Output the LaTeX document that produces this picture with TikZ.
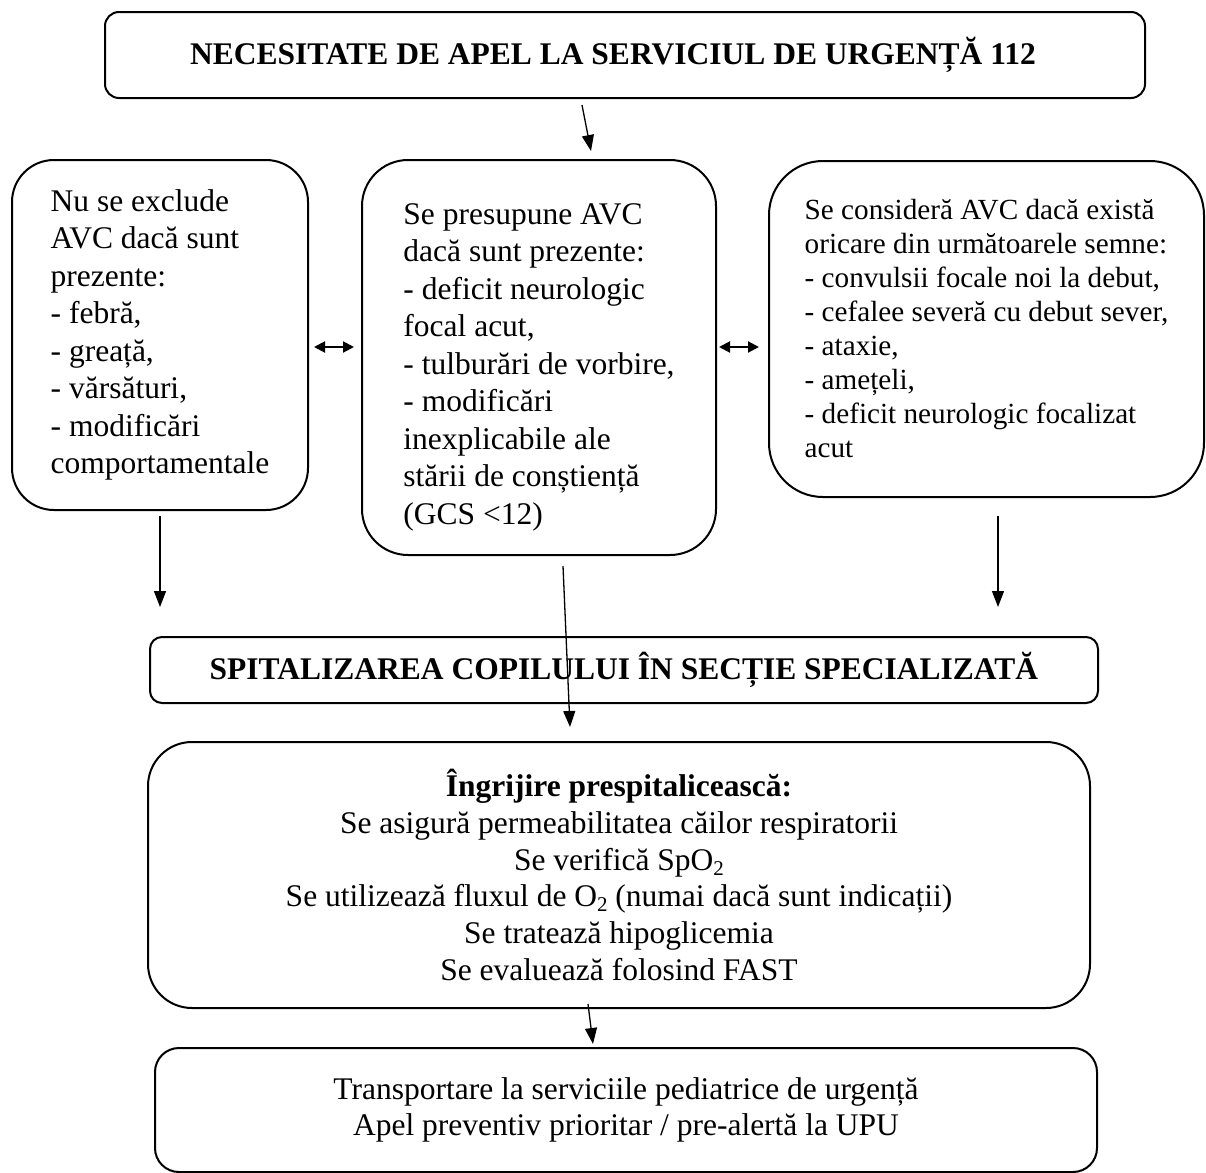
\documentclass[tikz,border=0pt]{standalone}
\usepackage{fontspec}
\setmainfont{Liberation Serif}
\usepackage{tikz}
\usetikzlibrary{arrows.meta,positioning,calc}

\newcommand{\bodysize}{\fontsize{15.75}{18.75}\selectfont}
\newcommand{\signsize}{\fontsize{14.6}{17}\selectfont}
\newcommand{\caresize}{\fontsize{15.75}{18.35}\selectfont}
\newcommand{\lowidx}[1]{\raisebox{-0.35ex}{\fontsize{10.5}{12}\selectfont #1}}

\begin{document}
\begin{tikzpicture}[x=0.5pt,y=-0.5pt,
    flowbox/.style={draw, line width=1pt, inner sep=0pt, font=\bodysize},
    arr/.style={-{Triangle[length=8pt,width=6pt]}, line width=0.65pt},
    dblarr/.style={{Triangle[length=5.5pt,width=5.5pt]}-{Triangle[length=5.5pt,width=5.5pt]}, line width=1pt}]
  \useasboundingbox (0,0) rectangle (1206,1173);
  % Emergency call on top
  \node[flowbox, rounded corners=7pt, minimum width=520pt, minimum height=43pt,
    font=\bodysize\bfseries] (call) at (625,55)
    {NECESITATE DE APEL LA SERVICIUL DE URGENȚĂ 112\hspace*{12pt}};
  % Three criteria boxes
  \node[flowbox, rounded corners=21pt, minimum width=148pt, minimum height=175pt,
    align=left] (excl) at (160,335)
    {Nu se exclude\\AVC dacă sunt\\prezente:\\- febră,\\- greață,\\- vărsături,\\- modificări\\comportamentale};
  \node[flowbox, rounded corners=23pt, minimum width=177pt, minimum height=197.5pt,
    align=left] (mid) at (539,357.5)
    {\rule{0pt}{20pt}Se presupune AVC\\dacă sunt prezente:\\- deficit neurologic\\focal acut,\\- tulburări de vorbire,\\- modificări\\inexplicabile ale\\stării de conștiență\\(GCS <12)};
  \node[flowbox, rounded corners=27pt, minimum width=217.5pt, minimum height=168pt,
    align=left, font=\signsize] (cons) at (986.5,329)
    {Se consideră AVC dacă există\\oricare din următoarele semne:\\- convulsii focale noi la debut,\\- cefalee severă cu debut sever,\\- ataxie,\\- amețeli,\\- deficit neurologic focalizat\\acut};
  % Hospital admission
  \node[flowbox, rounded corners=6pt, minimum width=474pt, minimum height=33pt,
    font=\bodysize\bfseries] (hosp) at (624,670)
    {SPITALIZAREA COPILULUI ÎN SECȚIE SPECIALIZATĂ};
  % Prehospital care
  \node[flowbox, rounded corners=22pt, minimum width=471pt, minimum height=133pt,
    align=center, font=\caresize] (care) at (619,875)
    {\textbf{Îngrijire prespitalicească:}\\Se asigură permeabilitatea căilor respiratorii\\Se verifică SpO\lowidx{2}\\Se utilizează fluxul de O\lowidx{2} (numai dacă sunt indicații)\\Se tratează hipoglicemia\\Se evaluează folosind FAST};
  % Transport
  \node[flowbox, rounded corners=12pt, minimum width=471pt, minimum height=62pt,
    align=center, font=\caresize] (transp) at (626,1110)
    {Transportare la serviciile pediatrice de urgență\\Apel preventiv prioritar / pre-alertă la UPU};

  % Connectors
  \draw[arr] ($(call.south)+(-43,6)$) -- ($(mid.north)+(52,-8)$);
  \draw[dblarr] ($(excl.east)+(5,12)$) -- ($(mid.west)+(-7,-10.5)$);
  \draw[dblarr] ($(mid.east)+(2,-10.5)$) -- ($(cons.west)+(-9,18)$);
  \draw[arr] ($(excl.south)+(0,5)$) -- ($(excl.south |- hosp.north)+(0,-29)$);
  \draw[arr] ($(cons.south)+(11.5,18)$) -- ($(cons.south |- hosp.north)+(11.5,-29)$);
  \draw[arr] ($(mid.south)+(24,10)$) -- ($(care.north)+(-49,-14)$);
  \draw[arr] ($(care.south)+(-31,-5)$) -- ($(transp.north)+(-33,-3)$);
\end{tikzpicture}
\end{document}
